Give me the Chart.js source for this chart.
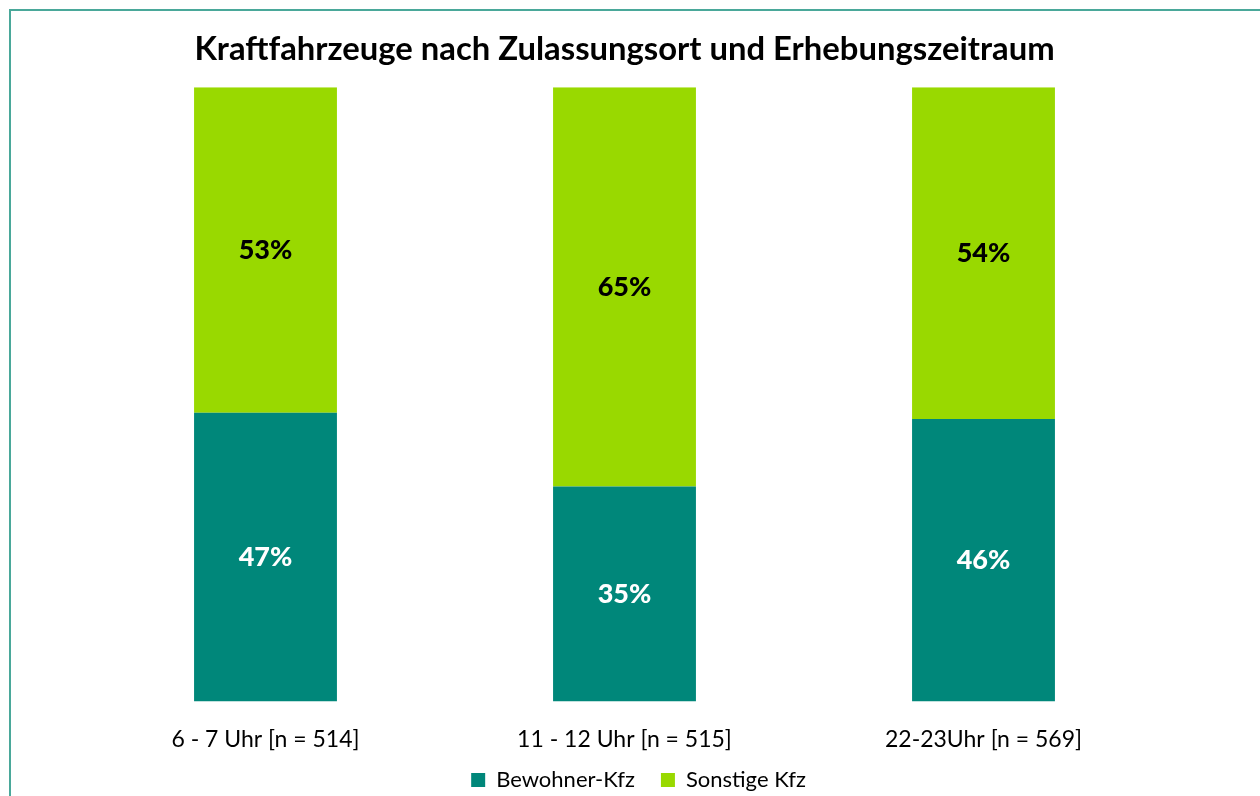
<html><head>
<meta charset="UTF-8">
<title>Kraftfahrzeuge nach Zulassungsort</title>
<script src="https://cdn.jsdelivr.net/npm/chart.js"></script>
<style>
    body { margin: 0; padding: 0; background: #fff; overflow: hidden; }
    .frame {
        position: absolute; left: 9px; top: 9px;
        width: 1300px; height: 850px;
        border: 2px solid #4aa89a;
    }
    .wrap { position: absolute; left: 0; top: 0; width: 1260px; height: 801px; }
</style>
</head>
<body>
<div class="frame"></div>
<div class="wrap"><canvas id="kfzChart"></canvas></div>
<script>
    // Daten
    const zeitraeume = ['6 - 7 Uhr [n = 514]', '11 - 12 Uhr [n = 515]', '22-23Uhr [n = 569]'];
    const bewohner = [47, 35, 46];
    const sonstige = [53, 65, 54];

    const LEGEND_GAP = 26;

    // Prozentwerte mittig in die Balken schreiben
    const barLabels = {
        id: 'barLabels',
        afterDatasetsDraw(chart) {
            const ctx = chart.ctx;
            ctx.save();
            ctx.font = '900 27px Lato';
            ctx.textAlign = 'center';
            ctx.textBaseline = 'middle';
            chart.data.datasets.forEach((ds, i) => {
                chart.getDatasetMeta(i).data.forEach((bar, j) => {
                    const p = bar.getProps(['x', 'y', 'base'], true);
                    ctx.fillStyle = ds.labelColor;
                    ctx.fillText(ds.data[j] + '%', p.x, (p.y + p.base) / 2);
                });
            });
            ctx.restore();
        }
    };

    // Legende: Abstand zwischen den Einträgen soll nicht nach oben Platz fressen
    const legendShift = {
        id: 'legendShift',
        afterLayout(chart) {
            const lg = chart.legend;
            lg.top -= LEGEND_GAP;
            lg.left += 14; lg.right += 14;
        }
    };

    new Chart(document.getElementById('kfzChart'), {
        type: 'bar',
        data: {
            labels: zeitraeume,
            datasets: [
                { label: 'Bewohner-Kfz', data: bewohner, backgroundColor: '#00877a', labelColor: '#ffffff' },
                { label: 'Sonstige Kfz', data: sonstige, backgroundColor: '#99d900', labelColor: '#000000' }
            ]
        },
        options: {
            responsive: true,
            maintainAspectRatio: false,
            animation: false,
            layout: { padding: { left: 86, right: 97, top: 0, bottom: 0 } },
            datasets: { bar: { categoryPercentage: 1, barPercentage: 0.398 } },
            scales: {
                x: {
                    stacked: true,
                    grid: { display: false },
                    border: { display: false },
                    ticks: { color: '#000', font: { family: 'Lato', size: 23 }, padding: 16 }
                },
                y: { stacked: true, display: false, min: 0, max: 100 }
            },
            plugins: {
                title: {
                    display: true,
                    text: 'Kraftfahrzeuge nach Zulassungsort und Erhebungszeitraum',
                    color: '#000',
                    font: { family: 'Lato', size: 32.8, weight: 'bold' },
                    padding: { top: 30, bottom: 18 }
                },
                legend: {
                    position: 'bottom',
                    maxHeight: 32,
                    labels: {
                        color: '#000',
                        font: { family: 'Lato', size: 22 },
                        boxWidth: 14, boxHeight: 14,
                        padding: LEGEND_GAP
                    }
                },
                tooltip: { enabled: false }
            }
        },
        plugins: [barLabels, legendShift]
    });
</script>
</body></html>
